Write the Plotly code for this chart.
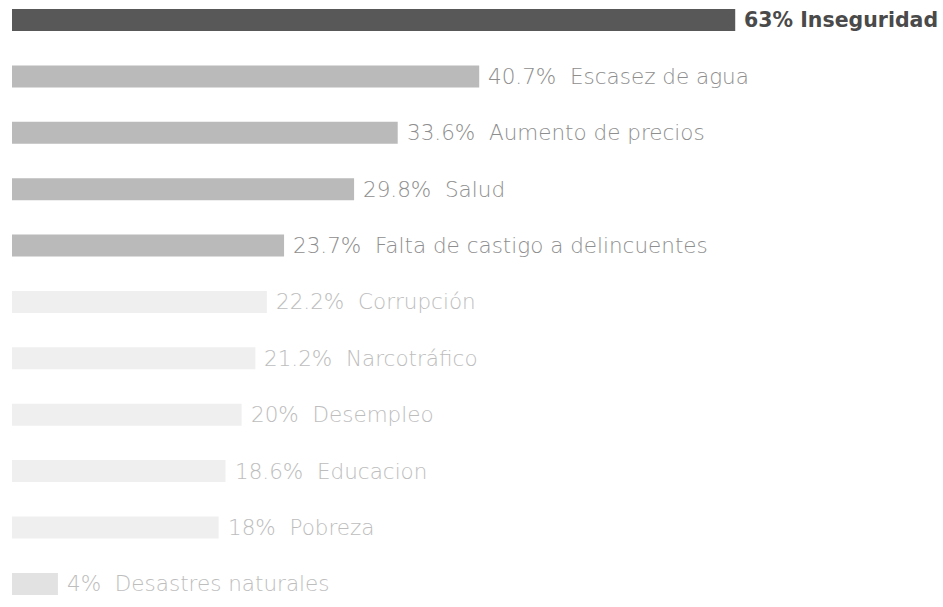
import plotly.graph_objects as go

# Survey: main problems perceived (share of respondents, %)
categories = [
    "Inseguridad", "Escasez de agua", "Aumento de precios", "Salud",
    "Falta de castigo a delincuentes", "Corrupción", "Narcotráfico",
    "Desempleo", "Educacion", "Pobreza", "Desastres naturales",
]
values = [63, 40.7, 33.6, 29.8, 23.7, 22.2, 21.2, 20, 18.6, 18, 4]

# Three emphasis tiers: top issue, next four, the rest
bar_colors = ["#585858"] + ["#bababa"] * 4 + ["#efefef"] * 5 + ["#e2e2e2"]
text_colors = ["#4a4a4a"] + ["#8e8e8e"] * 4 + ["#bdbdbd"] * 6

fig = go.Figure(
    go.Bar(
        x=values,
        y=categories,
        orientation="h",
        width=0.39,
        marker=dict(color=bar_colors, line=dict(width=0)),
        hoverinfo="skip",
    )
)

for i, (cat, val) in enumerate(zip(categories, values)):
    pct = f"{val:g}%"
    if i == 0:
        txt = f"{pct} {cat}"
        fnt = dict(family="DejaVu Sans", size=20.5, color=text_colors[i], weight=600)
    else:
        txt = f"{pct}  {cat}"
        fnt = dict(family="DejaVu Sans", size=21.5, color=text_colors[i], weight=200)
    fig.add_annotation(
        x=val, y=cat, text=txt, showarrow=False,
        xanchor="left", yanchor="middle", xshift=7,
        font=fnt,
    )

fig.update_layout(
    width=943, height=607,
    margin=dict(l=0, r=0, t=0, b=0),
    paper_bgcolor="white", plot_bgcolor="white",
    showlegend=False,
    xaxis=dict(range=[-1.045, 81.1], visible=False, fixedrange=True),
    yaxis=dict(
        range=[10.41, -0.355], visible=False, fixedrange=True,
        categoryorder="array", categoryarray=categories,
    ),
)

fig.write_html("out.html")
